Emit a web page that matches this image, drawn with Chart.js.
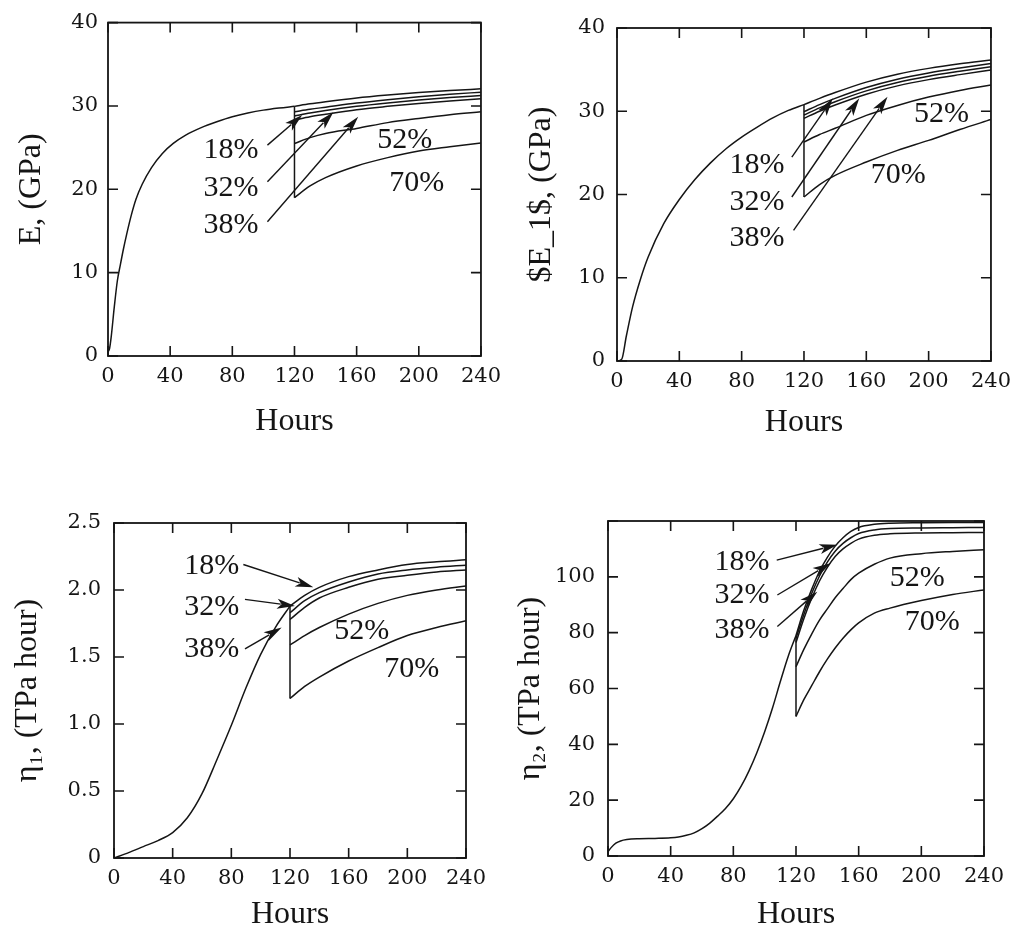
<!DOCTYPE html>
<html>
<head>
<meta charset="utf-8">
<script src="https://cdn.jsdelivr.net/npm/chart.js@4.4.0/dist/chart.umd.min.js"></script>
<style>
    html, body { margin: 0; padding: 0; background: #fff; }
    body { width: 1019px; height: 931px; position: relative; overflow: hidden; }
    .panel { position: absolute; }
</style>
</head>
<body>
<div class="panel" style="left:0px;top:0px"><canvas id="chartE" width="509" height="460"></canvas></div>
<div class="panel" style="left:509px;top:0px"><canvas id="chartE1" width="510" height="460"></canvas></div>
<div class="panel" style="left:0px;top:460px"><canvas id="chartEta1" width="509" height="471"></canvas></div>
<div class="panel" style="left:509px;top:460px"><canvas id="chartEta2" width="510" height="471"></canvas></div>
<script>
const ink = '#151515'
const damageLabels = ['18%', '32%', '38%', '52%', '70%']

// E, (GPa) - kurvan fram till 120 h
const eBaseHours = [0, 1, 2, 4, 6, 8, 10, 12, 15, 18, 22, 28, 35, 42, 50, 60, 70, 80, 90, 100, 110, 120]
const eBase = [0.5, 0.9, 2.2, 5.8, 9.0, 11.0, 12.9, 14.6, 16.9, 18.8, 20.6, 22.6, 24.3, 25.5, 26.5, 27.4, 28.1, 28.7, 29.15, 29.5, 29.75, 29.95]
const eAfterHours = [120, 130, 140, 160, 180, 200, 220, 240]
const eRef = [29.95, 30.25, 30.5, 30.95, 31.3, 31.6, 31.85, 32.05]
const e18 = [29.3, 29.6, 29.85, 30.35, 30.75, 31.1, 31.4, 31.65]
const e32 = [28.8, 29.15, 29.45, 29.95, 30.35, 30.7, 31.0, 31.25]
const e38 = [28.3, 28.7, 29.0, 29.55, 29.95, 30.3, 30.6, 30.85]
const e52 = [25.5, 26.2, 26.7, 27.3, 28.0, 28.5, 28.95, 29.3]
const e70 = [19.0, 20.4, 21.4, 22.8, 23.8, 24.6, 25.1, 25.55]

// $E_1$, (GPa)
const e1BaseHours = [0, 3, 6, 10, 15, 20, 30, 40, 50, 60, 70, 80, 90, 100, 110, 120]
const e1Base = [0, 0.2, 3.0, 6.5, 9.8, 12.5, 16.5, 19.4, 21.8, 23.8, 25.5, 26.9, 28.1, 29.2, 30.1, 30.8]
const e1AfterHours = [120, 130, 140, 160, 180, 200, 220, 240]
const e1Ref = [30.8, 31.55, 32.25, 33.5, 34.45, 35.15, 35.7, 36.15]
const e1_18 = [29.95, 30.8, 31.55, 32.85, 33.85, 34.6, 35.2, 35.75]
const e1_32 = [29.55, 30.4, 31.15, 32.45, 33.45, 34.2, 34.8, 35.35]
const e1_38 = [29.15, 30.0, 30.75, 32.05, 33.05, 33.8, 34.4, 34.95]
const e1_52 = [26.3, 27.2, 27.95, 29.5, 30.7, 31.7, 32.5, 33.15]
const e1_70 = [19.7, 21.2, 22.3, 23.9, 25.3, 26.5, 27.8, 29.0]

// eta1, (TPa hour)
const eta1BaseHours = [0, 10, 20, 30, 40, 50, 60, 70, 80, 90, 100, 110, 120]
const eta1Base = [0, 0.04, 0.085, 0.13, 0.19, 0.30, 0.48, 0.73, 0.99, 1.27, 1.52, 1.72, 1.88]
const eta1AfterHours = [120, 130, 140, 160, 180, 200, 220, 240]
const eta1_18 = [1.88, 1.96, 2.02, 2.10, 2.15, 2.19, 2.21, 2.225]
const eta1_32 = [1.83, 1.92, 1.98, 2.06, 2.12, 2.15, 2.17, 2.185]
const eta1_38 = [1.78, 1.87, 1.94, 2.02, 2.08, 2.11, 2.135, 2.15]
const eta1_52 = [1.59, 1.66, 1.72, 1.82, 1.90, 1.96, 2.00, 2.03]
const eta1_70 = [1.19, 1.28, 1.35, 1.47, 1.57, 1.66, 1.72, 1.77]

// eta2, (TPa hour)
const eta2BaseHours = [0, 2, 5, 8, 12, 20, 30, 40, 45, 50, 55, 60, 65, 70, 75, 80, 85, 90, 95, 100, 105, 110, 115, 120]
const eta2Base = [1.5, 3.0, 4.6, 5.4, 5.9, 6.2, 6.3, 6.5, 6.8, 7.4, 8.3, 9.8, 11.8, 14.3, 17.0, 20.5, 25.0, 30.5, 37.0, 44.5, 53, 62.5, 71.5, 79]
const eta2AfterHours = [120, 125, 130, 135, 140, 145, 150, 155, 160, 170, 180, 200, 220, 240]
const eta2_18 = [79, 88, 95.5, 102, 107, 111, 114, 116.3, 117.7, 118.8, 119.2, 119.4, 119.5, 119.5]
const eta2_32 = [78, 86.5, 94, 100.3, 105.3, 109.2, 112, 114, 115.5, 116.8, 117.3, 117.5, 117.6, 117.7]
const eta2_38 = [76.5, 85, 92.3, 98.5, 103.4, 107.3, 110, 112, 113.5, 114.9, 115.4, 115.7, 115.8, 115.9]
const eta2_52 = [67.8, 74, 79.5, 84.5, 88.5, 92.5, 95.8, 99, 101.3, 104.5, 106.7, 108.3, 109.1, 109.7]
const eta2_70 = [50, 56, 61, 66, 70.5, 74.5, 78, 81, 83.5, 87, 88.8, 91.5, 93.7, 95.3]

// Gör om timmar + värden till punkter
function curve(hours, values) {
    return hours.map((h, i) => ({ x: h, y: values[i] }))
}

function lineSet(data, smooth) {
    return {
        data: data,
        borderColor: ink,
        borderWidth: 1.5,
        pointRadius: 0,
        fill: false,
        tension: 0,
        cubicInterpolationMode: smooth ? 'monotone' : 'default'
    }
}

// Ram runt diagrammet och tickmarks som pekar inåt
const frameTicks = {
    id: 'frameTicks',
    afterDraw(chart) {
        const ctx = chart.ctx
        const a = chart.chartArea
        const xs = chart.scales.x
        const ys = chart.scales.y
        const len = 10
        ctx.save()
        ctx.strokeStyle = ink
        ctx.lineWidth = 1.6
        ctx.beginPath()
        xs.ticks.forEach((t) => {
            const px = xs.getPixelForValue(t.value)
            ctx.moveTo(px, a.bottom)
            ctx.lineTo(px, a.bottom - len)
            ctx.moveTo(px, a.top)
            ctx.lineTo(px, a.top + len)
        })
        ys.ticks.forEach((t) => {
            const py = ys.getPixelForValue(t.value)
            ctx.moveTo(a.left, py)
            ctx.lineTo(a.left + len, py)
            ctx.moveTo(a.right, py)
            ctx.lineTo(a.right - len, py)
        })
        ctx.stroke()
        ctx.lineWidth = 1.8
        ctx.strokeRect(a.left, a.top, a.right - a.left, a.bottom - a.top)
        ctx.restore()
    }
}

// Procent-etiketter och pilar (i datakoordinater)
const notes = {
    id: 'notes',
    afterDatasetsDraw(chart, args, opts) {
        const { ctx, scales } = chart
        const X = (v) => scales.x.getPixelForValue(v)
        const Y = (v) => scales.y.getPixelForValue(v)
        ctx.save()
        ctx.strokeStyle = ink
        ctx.fillStyle = ink
        ctx.lineWidth = 1.4
        ;(opts.arrows || []).forEach((ar) => {
            const x1 = X(ar[0]), y1 = Y(ar[1]), x2 = X(ar[2]), y2 = Y(ar[3])
            const ang = Math.atan2(y2 - y1, x2 - x1)
            const c = Math.cos(ang), s = Math.sin(ang)
            const hl = 18, hw = 5
            ctx.beginPath()
            ctx.moveTo(x1, y1)
            ctx.lineTo(x2 - c * hl * 0.8, y2 - s * hl * 0.8)
            ctx.stroke()
            ctx.beginPath()
            ctx.moveTo(x2, y2)
            ctx.lineTo(x2 - c * hl - s * hw, y2 - s * hl + c * hw)
            ctx.lineTo(x2 - c * hl * 0.75, y2 - s * hl * 0.75)
            ctx.lineTo(x2 - c * hl + s * hw, y2 - s * hl - c * hw)
            ctx.closePath()
            ctx.fill()
        })
        ctx.font = '30px "Liberation Serif", serif'
        ctx.textAlign = 'center'
        ctx.textBaseline = 'middle'
        ;(opts.labels || []).forEach((lb, i) => {
            ctx.fillText(damageLabels[i], X(lb[0]), Y(lb[1]))
        })
        ctx.restore()
    }
}

function makePanel(id, p) {
    const datasets = []
    datasets.push(lineSet(curve(p.baseHours, p.base), true))
    p.after.forEach((vals) => {
        datasets.push(lineSet(curve(p.afterHours, vals), true))
    })
    // Vertikalt fall vid 120 h
    const lowest = p.after[p.after.length - 1]
    datasets.push(lineSet([
        { x: p.afterHours[0], y: p.base[p.base.length - 1] },
        { x: p.afterHours[0], y: lowest[0] }
    ], false))

    new Chart(document.getElementById(id), {
        type: 'line',
        data: { datasets: datasets },
        options: {
            responsive: false,
            animation: false,
            events: [],
            layout: { padding: { top: p.padTop, right: p.padRight, left: 0, bottom: 0 } },
            scales: {
                x: {
                    type: 'linear',
                    min: 0,
                    max: 240,
                    afterFit: (s) => { s.height = p.xHeight },
                    grid: { display: false, drawTicks: false },
                    border: { display: false },
                    ticks: {
                        stepSize: 40,
                        padding: 8,
                        maxRotation: 0,
                        color: ink,
                        font: { family: '"DejaVu Serif", serif', size: 21 }
                    },
                    title: {
                        display: true,
                        text: 'Hours',
                        color: ink,
                        font: { family: '"Liberation Serif", serif', size: 32, lineHeight: 1 },
                        padding: { top: 0, bottom: p.xTitlePad }
                    }
                },
                y: {
                    type: 'linear',
                    min: 0,
                    max: p.yMax,
                    afterFit: (s) => { s.width = p.yWidth },
                    grid: { display: false, drawTicks: false },
                    border: { display: false },
                    ticks: {
                        stepSize: p.yStep,
                        padding: p.yTickPad,
                        color: ink,
                        font: { family: '"DejaVu Serif", serif', size: 21 },
                        callback: p.yFormat
                    },
                    title: {
                        display: true,
                        text: p.yTitle,
                        color: ink,
                        font: { family: '"Liberation Serif", serif', size: 32, lineHeight: 1 },
                        padding: { top: p.yTitlePad, bottom: 0 }
                    }
                }
            },
            plugins: {
                legend: { display: false },
                tooltip: { enabled: false },
                notes: { labels: p.labels, arrows: p.arrows }
            }
        },
        plugins: [frameTicks, notes]
    })
}

makePanel('chartE', {
    baseHours: eBaseHours, base: eBase,
    afterHours: eAfterHours, after: [eRef, e18, e32, e38, e52, e70],
    yMax: 40, yStep: 10, yTitle: 'E, (GPa)',
    yFormat: (v) => String(v),
    padTop: 22, padRight: 26, yWidth: 108, xHeight: 104, xTitlePad: 22, yTitlePad: 16, yTickPad: 10,
    labels: [[79.2, 24.7], [79.2, 20.1], [79.2, 15.7], [191, 25.9], [198.6, 20.7]],
    arrows: [[102.6, 25.3, 125, 28.9], [102.6, 20.9, 145, 29.25], [102.6, 16.1, 161, 28.7]]
})

makePanel('chartE1', {
    baseHours: e1BaseHours, base: e1Base,
    afterHours: e1AfterHours, after: [e1Ref, e1_18, e1_32, e1_38, e1_52, e1_70],
    yMax: 40, yStep: 10, yTitle: '$E_1$, (GPa)',
    yFormat: (v) => String(v),
    padTop: 28, padRight: 27, yWidth: 108, xHeight: 99, xTitlePad: 21, yTitlePad: 17, yTickPad: 12,
    labels: [[89.8, 23.5], [89.8, 19.1], [89.8, 14.7], [208.2, 29.7], [180.5, 22.3]],
    arrows: [[112.2, 24.5, 138.5, 31.55], [112.2, 19.7, 155.5, 31.55], [113.3, 15.7, 173.6, 31.75]]
})

makePanel('chartEta1', {
    baseHours: eta1BaseHours, base: eta1Base,
    afterHours: eta1AfterHours, after: [eta1_18, eta1_32, eta1_38, eta1_52, eta1_70],
    yMax: 2.5, yStep: 0.5, yTitle: 'η₁, (TPa hour)',
    yFormat: (v) => (v === 0 ? '0' : v.toFixed(1)),
    padTop: 63, padRight: 43, yWidth: 114, xHeight: 73, xTitlePad: 0, yTitlePad: 12, yTickPad: 13,
    labels: [[66.6, 2.18], [66.6, 1.87], [66.6, 1.56], [168.9, 1.69], [203, 1.41]],
    arrows: [[88.2, 2.19, 135.9, 2.02], [89.3, 1.93, 123.4, 1.88], [89.3, 1.56, 114.3, 1.72]]
})

makePanel('chartEta2', {
    baseHours: eta2BaseHours, base: eta2Base,
    afterHours: eta2AfterHours, after: [eta2_18, eta2_32, eta2_38, eta2_52, eta2_70],
    yMax: 120, yStep: 20, yTitle: 'η₂, (TPa hour)',
    yFormat: (v) => (v > 100 ? '' : String(v)),
    padTop: 61, padRight: 35, yWidth: 99, xHeight: 75, xTitlePad: 0, yTitlePad: 6, yTickPad: 13,
    labels: [[85.5, 105.4], [85.5, 93.5], [85.5, 81], [197.4, 99.6], [206.9, 83.9]],
    arrows: [[107.7, 106, 146.4, 111.5], [108.1, 93.5, 142.1, 104.9], [108.1, 82.2, 133.6, 94.7]]
})
</script>
</body>
</html>
